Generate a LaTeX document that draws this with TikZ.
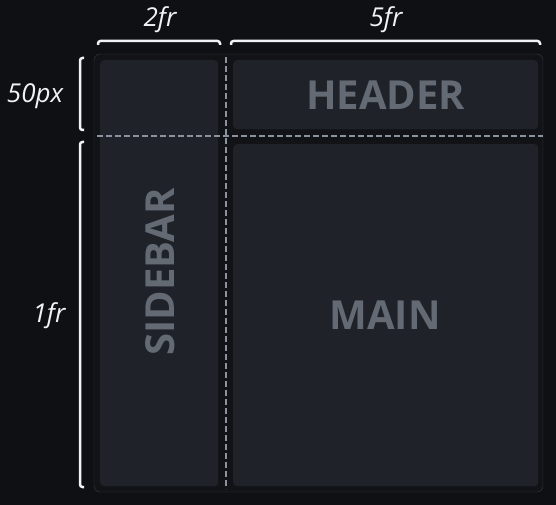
\documentclass[tikz,border=0pt]{standalone}
\usepackage{fontspec}
\setmainfont{Open Sans}
\usetikzlibrary{positioning}

\definecolor{pagebg}{HTML}{0E1013}
\definecolor{gridbg}{HTML}{111317}
\definecolor{gridedge}{HTML}{3A3F46}
\definecolor{cellbg}{HTML}{1F2329}
\definecolor{celltext}{HTML}{636A73}
\definecolor{guide}{HTML}{8B949E}
\definecolor{bracecol}{HTML}{F0F3F6}

\tikzset{
    cell/.style={fill=cellbg, rounded corners=4pt, inner sep=0pt, anchor=north west},
    celllabel/.style={text=celltext, font=\fontsize{40}{40}\selectfont\bfseries},
    guideline/.style={guide, line width=2.5pt, dash pattern=on 6pt off 3pt},
    bracket/.style={bracecol, line width=2.5pt, rounded corners=2.5pt},
    sizelabel/.style={text=bracecol, font=\fontsize{26}{26}\selectfont\itshape}
}

\begin{document}
\begin{tikzpicture}[x=1pt, y=-1pt]

    % --- Page ---
    \fill[pagebg] (0,0) rectangle (556,505);
    \useasboundingbox (0,0) rectangle (556,505);

    % --- Grid container ---
    \draw[gridedge, fill=gridbg, rounded corners=6pt] (94,54) rectangle (543,492);

    % --- Cells ---
    \node[cell, minimum width=118pt, minimum height=426pt] (sidebar) at (100,60) {};
    \node[cell, minimum width=305pt, minimum height=69pt] (header) at (233,60) {};
    \node[cell, minimum width=305pt, minimum height=342pt] (main) at (233,144) {};

    \node[celllabel, rotate=90] (sidebartext) at (160,272) {SIDEBAR};
    \node[celllabel] (headertext) at (header.center) {HEADER};
    \node[celllabel] (maintext) at (385,315) {MAIN};

    % --- Grid lines (dashed) ---
    \coordinate (colT) at (226,57);
    \coordinate (colB) at (226,489);
    \coordinate (rowL) at (97,136);
    \coordinate (rowR) at (543,136);
    \draw[guideline] (colT) -- (colB);
    \draw[guideline] (rowL) -- (rowR);

    % --- Brackets ---
    % top: column widths
    \draw[bracket] (98,45) -- (98,41) -- (220,41) -- (220,45);
    \draw[bracket] (231,45) -- (231,41) -- (540,41) -- (540,45);
    % left: row heights
    \draw[bracket] (84,58) -- (80,58) -- (80,130) -- (84,130);
    \draw[bracket] (84,142) -- (80,142) -- (80,487) -- (84,487);

    % --- Labels ---
    \node[sizelabel] (sidebarwidth) at (160,20) {2fr};
    \node[sizelabel] (mainwidth) at (386,20) {5fr};
    \node[sizelabel] (headerheight) at (35,96) {50px};
    \node[sizelabel] (mainheight) at (49,316) {1fr};

\end{tikzpicture}
\end{document}
